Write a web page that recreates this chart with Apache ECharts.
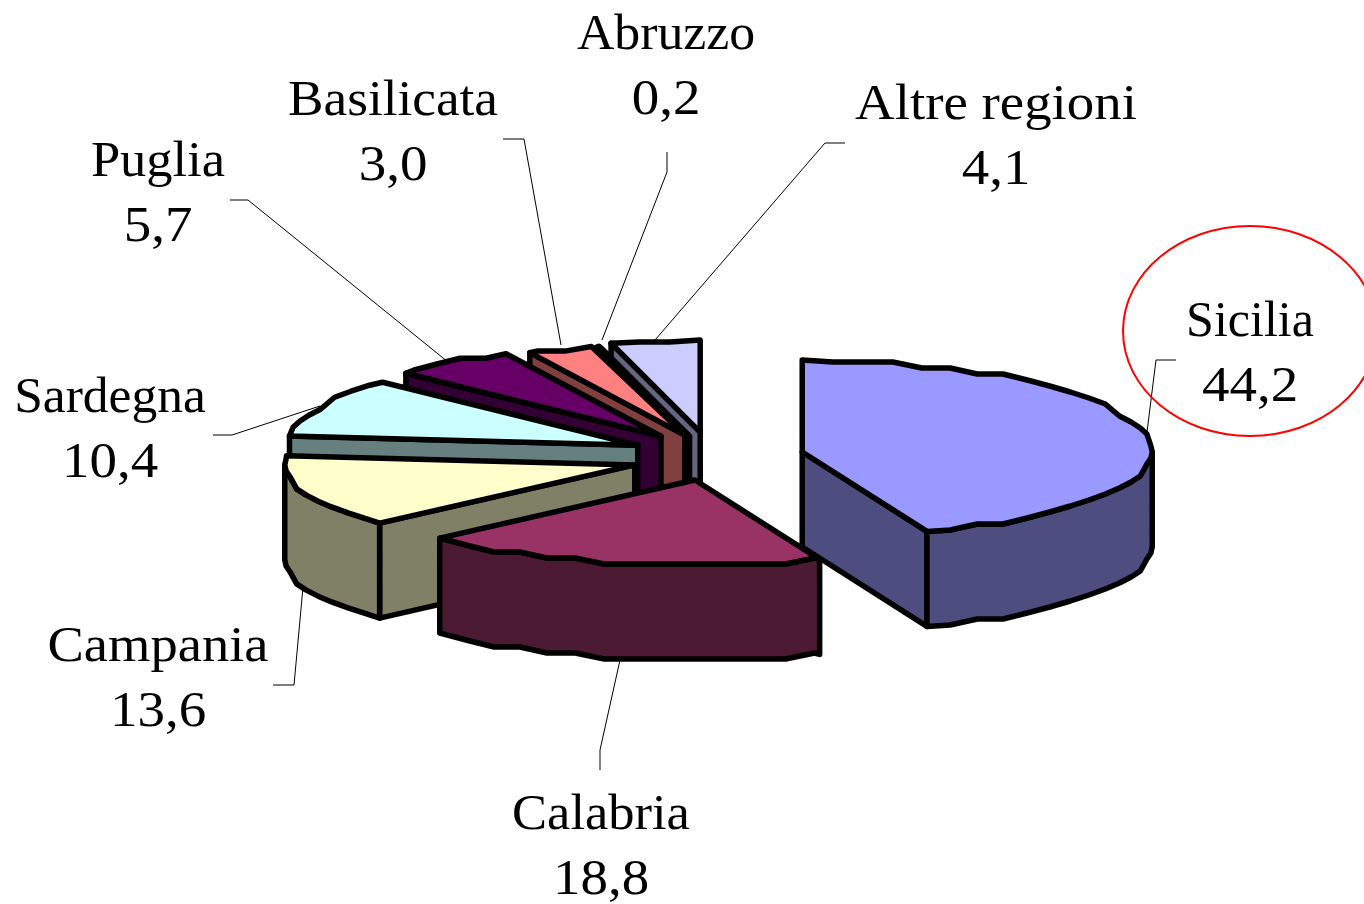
<!DOCTYPE html>
<html>
<head>
<meta charset="utf-8">
<style>
  html, body { margin: 0; padding: 0; background: #fff; }
  #chart { width: 1364px; height: 904px; }
</style>
<script src="https://cdn.jsdelivr.net/npm/echarts@6/dist/echarts.min.js"></script>
</head>
<body>
<div id="chart"></div>
<script>
var regions = ['Sicilia', 'Calabria', 'Campania', 'Sardegna', 'Puglia', 'Basilicata', 'Abruzzo', 'Altre regioni']
var shares = [44.2, 18.8, 13.6, 10.4, 5.7, 3.0, 0.2, 4.1]

// excel default palette, side = top colour darkened
var topColors = ['#9999FF', '#993366', '#FFFFCC', '#CCFFFF', '#660066', '#FF8080', '#0066CC', '#CCCCFF']
var sideColors = ['#4D4D80', '#4D1A33', '#808066', '#668080', '#330033', '#804040', '#003366', '#666680']

// how far each slice is pulled out of the pie, sideways and up/down
var explodeX = [0.265, 0.205, 0.23, 0.23, 0.24, 0.21, 0.235, 0.24]
var explodeY = [0.12, 0.29, 0.37, 0.23, 0.24, 0.22, 0.2, 0.24]

// label centres and leader lines
var labelPos = [[1250, 323], [601, 816], [158, 648], [110, 399], [158, 163], [393, 102], [666, 36], [996, 106]]
var nameStretch = [1, 1.05, 1.09, 1.03, 1.05, 1.065, 1.035, 1.098]
var valueStretch = 1.1
var leaders = [
  [[1176, 360], [1156, 360], [1147, 432]],
  [[600, 770], [600, 750], [620, 660]],
  [[273, 685], [294, 685], [303, 587]],
  [[213, 435], [232, 435], [320, 406]],
  [[230, 200], [248, 200], [448, 362]],
  [[503, 139], [524, 139], [561, 345]],
  [[667, 152], [667, 172], [602, 340]],
  [[845, 143], [825, 143], [655, 340]]
]

var cx = 711
var cy = 454
var rx = 350
var ryBack = 92
var ryFront = 85   // perspective, the near half is flatter
var depth = 95
var lineW = 5.5
var step = 5       // rim is a rough polygon like the original
var snap = 6

var total = shares.reduce(function (a, b) { return a + b }, 0)

function rad (d) { return d * Math.PI / 180 }

// point on the rim, d is degrees clockwise from 12 o'clock
function rimPt (d, c, rough) {
  var cos = Math.cos(rad(d))
  var x = rx * Math.sin(rad(d))
  var y = -(cos > 0 ? ryBack : ryFront) * cos
  if (rough) y = Math.round(y / snap) * snap
  return [c[0] + x, c[1] + y]
}

function rim (a0, a1, c) {
  var pts = [rimPt(a0, c, false)]
  var d = (Math.floor(a0 / step) + 1) * step
  for (; d < a1; d += step) pts.push(rimPt(d, c, true))
  pts.push(rimPt(a1, c, false))
  return pts
}

function down (pts) {
  return pts.map(function (p) { return [p[0], p[1] + depth] })
}

function poly (pts, fill, z2) {
  return {
    type: 'polygon',
    z2: z2,
    shape: { points: pts },
    style: { fill: fill, stroke: '#000', lineWidth: lineW, lineJoin: 'round' }
  }
}

function textEl (str, p, stretch) {
  return {
    type: 'text',
    z2: 9000,
    x: p[0],
    y: p[1],
    scaleX: stretch,
    style: {
      x: 0,
      y: 0,
      text: str,
      fill: '#000',
      font: '50px "Liberation Serif"',
      textAlign: 'center',
      textVerticalAlign: 'middle'
    }
  }
}

function renderItem (params, api) {
  var i = params.dataIndex
  var before = 0
  for (var k = 0; k < i; k++) before += shares[k]
  var a0 = before / total * 360
  var a1 = a0 + api.value(0) / total * 360
  var mid = rad((a0 + a1) / 2)
  var c = [cx + explodeX[i] * rx * Math.sin(mid), cy - explodeY[i] * ryBack * Math.cos(mid)]
  // paint back to front by where the slice points
  var z = 100 + Math.round((1 - Math.cos(mid)) * 1000)
  var kids = []

  // leader goes under the slices
  kids.push({
    type: 'polyline',
    z2: 1,
    shape: { points: leaders[i] },
    style: { fill: null, stroke: '#000', lineWidth: 1 }
  })

  var apexLow = [c[0], c[1] + depth]
  // radial walls only when they face the viewer
  if (Math.sin(rad(a0)) < 0) {
    var s = rimPt(a0, c, false)
    kids.push(poly([c, s, [s[0], s[1] + depth], apexLow], sideColors[i], z))
  }
  if (Math.sin(rad(a1)) > 0) {
    var e = rimPt(a1, c, false)
    kids.push(poly([c, e, [e[0], e[1] + depth], apexLow], sideColors[i], z))
  }
  // outer wall, only the front half of the rim shows
  var w0 = Math.max(a0, 90)
  var w1 = Math.min(a1, 270)
  if (w1 > w0) {
    var r = rim(w0, w1, c)
    kids.push(poly(r.concat(down(r).reverse()), sideColors[i], z + 1))
  }
  kids.push(poly([c].concat(rim(a0, a1, c)), topColors[i], z + 2))

  kids.push(textEl(regions[i], labelPos[i], nameStretch[i]))
  kids.push(textEl(api.value(0).toFixed(1).replace('.', ','), [labelPos[i][0], labelPos[i][1] + 65], valueStretch))

  return { type: 'group', children: kids }
}

var chart = echarts.init(document.getElementById('chart'))
chart.setOption({
  animation: false,
  backgroundColor: '#fff',
  graphic: [{
    type: 'ellipse',
    z: 10,
    silent: true,
    shape: { cx: 1250, cy: 331, rx: 127, ry: 105 },
    style: { fill: null, stroke: '#f00', lineWidth: 2 }
  }],
  series: [{
    type: 'custom',
    coordinateSystem: 'none',
    renderItem: renderItem,
    silent: true,
    data: shares.map(function (v) { return [v] })
  }]
})
</script>
</body>
</html>
